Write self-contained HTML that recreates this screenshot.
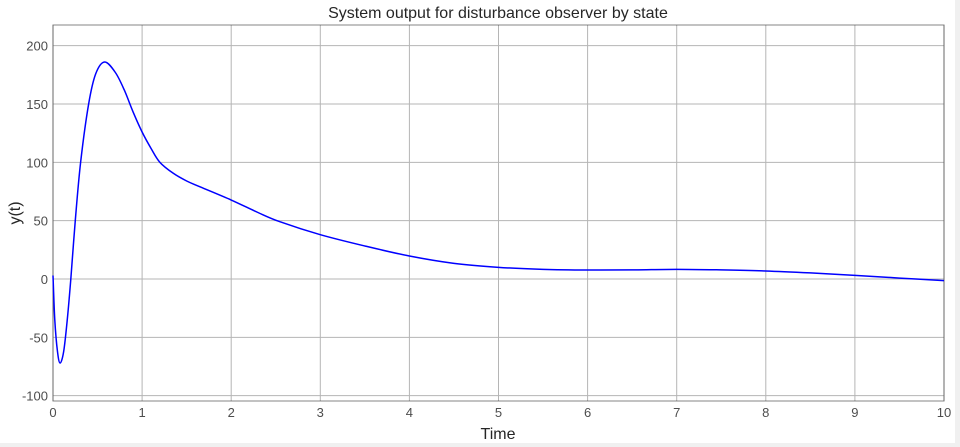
<!DOCTYPE html>
<html><head><meta charset="utf-8"><style>
html,body{margin:0;padding:0;background:#f0f0f0;}
svg{display:block;font-family:"Liberation Sans",sans-serif;}
</style></head><body>
<svg id="chart" width="960" height="447">
<rect x="0" y="0" width="955" height="443" fill="#fff"/>
<g id="grid"></g>
<g id="ticks"></g>
<rect x="53" y="25" width="891" height="376" fill="none" stroke="#333" stroke-width="1" opacity="0.6"/>
<path id="line" fill="none" stroke="#0000ff" stroke-width="1.5"/>
<text x="498" y="18" text-anchor="middle" font-size="16" fill="#262626">System output for disturbance observer by state</text>
<text x="498" y="439" text-anchor="middle" font-size="16" fill="#262626">Time</text>
<text x="0" y="0" transform="translate(20,213) rotate(-90)" text-anchor="middle" font-size="16" fill="#262626">y(t)</text>
</svg>
<script>
const times=[0,0.02,0.05,0.08,0.12,0.16,0.2,0.25,0.31,0.4,0.48,0.58,0.7,0.8,0.9,1.0,1.1,1.2,1.35,1.5,1.65,2.0,2.3,2.55,3,3.5,4,4.5,5,5.5,6,6.5,7,7.5,8,8.5,9,9.5,10];
const values=[3,-35,-62,-72,-62,-35,0,50,100,150,176,186,177,162,143,126,112,100,90.6,84,79,67.7,57,49,38,28.3,19.7,13.4,10,8.3,7.7,7.8,8.3,7.8,6.9,5.2,3.1,0.8,-1.4];
const xTicks=[0,1,2,3,4,5,6,7,8,9,10];
const yTicks=[-100,-50,0,50,100,150,200];
const X=t=>53+t*89.1;
const Y=v=>279-v*1.1667;
const ns="http://www.w3.org/2000/svg";
const grid=document.getElementById('grid'),ticks=document.getElementById('ticks');
xTicks.forEach(t=>{
const l=document.createElementNS(ns,'line');
l.setAttribute('x1',X(t));l.setAttribute('x2',X(t));l.setAttribute('y1',25);l.setAttribute('y2',401);
l.setAttribute('stroke','#b5b5b5');l.setAttribute('stroke-width','1');


grid.appendChild(l);
const tx=document.createElementNS(ns,'text');
tx.setAttribute('x',X(t));tx.setAttribute('y',417);tx.setAttribute('text-anchor','middle');tx.setAttribute('font-size','13');tx.setAttribute('fill','#4d4d4d');
tx.textContent=t;


ticks.appendChild(tx);
});
yTicks.forEach(v=>{
const l=document.createElementNS(ns,'line');
l.setAttribute('x1',53);l.setAttribute('x2',944);l.setAttribute('y1',Y(v));l.setAttribute('y2',Y(v));
l.setAttribute('stroke','#b5b5b5');l.setAttribute('stroke-width','1');


grid.appendChild(l);
const tx=document.createElementNS(ns,'text');
tx.setAttribute('x',48);tx.setAttribute('y',Y(v)+5);tx.setAttribute('text-anchor','end');tx.setAttribute('font-size','13');tx.setAttribute('fill','#4d4d4d');
tx.textContent=v;


ticks.appendChild(tx);
});
const pts=times.map((t,i)=>[X(t),Y(values[i])]);
let d='M'+pts[0][0]+','+pts[0][1];
for(let i=0;i<pts.length-1;i++){
const p0=pts[Math.max(0,i-1)],p1=pts[i],p2=pts[i+1],p3=pts[Math.min(pts.length-1,i+2)];
const c1=[p1[0]+(p2[0]-p0[0])/6,p1[1]+(p2[1]-p0[1])/6];
const c2=[p2[0]-(p3[0]-p1[0])/6,p2[1]-(p3[1]-p1[1])/6];
d+=' C'+c1[0]+','+c1[1]+' '+c2[0]+','+c2[1]+' '+p2[0]+','+p2[1];
}
document.getElementById('line').setAttribute('d',d);
</script>
</body></html>
